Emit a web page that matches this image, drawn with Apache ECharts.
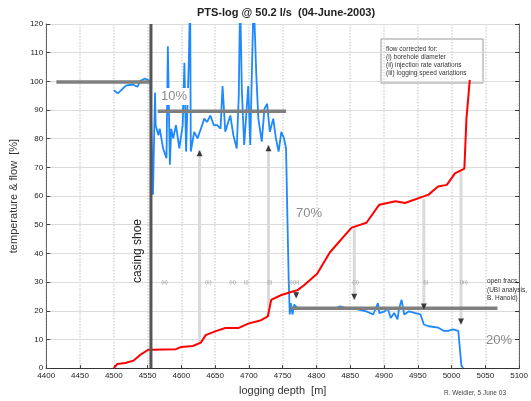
<!DOCTYPE html>
<html>
<head>
<meta charset="utf-8">
<script src="https://cdn.jsdelivr.net/npm/echarts@6/dist/echarts.min.js"></script>
<style>
  html, body { margin: 0; padding: 0; background: #fff; }
  #chart { width: 531px; height: 401px; }
</style>
</head>
<body>
<div id="chart"></div>
<script>
// flow log (blue)
const flowDepth = [4500, 4506, 4518, 4528, 4535, 4539, 4546, 4554, 4558, 4561, 4562, 4566, 4568, 4573, 4578, 4580, 4583, 4585, 4588, 4592, 4597, 4602, 4604.5, 4607, 4611, 4613, 4614, 4619, 4624, 4629, 4634, 4638, 4643, 4648, 4653, 4658, 4661, 4665, 4672.5, 4677, 4682, 4685, 4687, 4689.5, 4693, 4699, 4702, 4707, 4711, 4714, 4719, 4723, 4727, 4731, 4736, 4740, 4744, 4748, 4752, 4755, 4757, 4759, 4760.5, 4762, 4764.5, 4767, 4772, 4781.5, 4801, 4816, 4830, 4835, 4845, 4859, 4874, 4884, 4891, 4893, 4901, 4905.5, 4910, 4915, 4920, 4922, 4926, 4930, 4937, 4946.5, 4954, 4959, 4966, 4980.5, 4988, 4995, 5002, 5010, 5014.5, 5017]
const flowValue = [96.9, 95.8, 98.5, 98.9, 98.1, 100.1, 101.0, 100.1, 60.5, 96.1, 84.7, 81.2, 83.5, 76.6, 73.2, 112.2, 70.9, 83.5, 80.1, 84.7, 76.6, 84.7, 106.5, 75.5, 106.5, 130, 75.5, 82.4, 80.1, 83.5, 87.0, 85.8, 88.1, 84.7, 84.7, 83.5, 98.4, 82.4, 88.1, 81.2, 76.6, 95.0, 130, 97.3, 77.8, 98.4, 77.8, 130, 101.9, 87.0, 79.0, 90.4, 92.2, 82.4, 87.0, 80.1, 75.5, 82.4, 80.1, 76.6, 52.5, 30, 18.7, 22.7, 18.7, 22.1, 21.0, 21.0, 20.6, 20.9, 21.0, 21.5, 20.9, 20.6, 19.8, 18.7, 22.7, 19.2, 19.8, 20.9, 17.5, 19.2, 17.0, 20.4, 23.8, 18.7, 19.8, 19.2, 18.7, 15.2, 14.6, 14.1, 13.0, 13.0, 13.5, 13.0, 1, 0]

// temperature log (red)
const tempDepth = [4500, 4505, 4517, 4529, 4539, 4551, 4556, 4592, 4600, 4617, 4629, 4636, 4651, 4665, 4685, 4699, 4718, 4728, 4733, 4748, 4765, 4772, 4782, 4801, 4820, 4852, 4874, 4893, 4917, 4931, 4966, 4980, 4993, 5005, 5019, 5022, 5027]
const tempValue = [0, 1.4, 1.8, 2.6, 4.6, 6.4, 6.4, 6.6, 7.4, 7.7, 8.9, 11.5, 12.9, 14.0, 14.0, 15.5, 16.7, 18.0, 23.8, 25.5, 26.7, 27.2, 29.0, 32.9, 40.4, 49.0, 50.7, 57.0, 58.2, 57.6, 60.5, 63.3, 63.9, 67.9, 69.6, 86.8, 100.5]

// flow levels (grey bars)
const levelStart = [4415, 4565, 4762]
const levelEnd = [4555, 4755, 5068]
const levelValue = [99.8, 89.6, 20.9]

// casing shoe depth
const casingDepth = 4555

// feed zones: from temperature step to flow arrow
const zoneDepth = [4627, 4729, 4770, 4856, 4959, 5014]
const zoneFrom = [8.9, 18, 27, 49, 59, 68.7]
const zoneTo = [76, 77.7, 24.4, 23.8, 20.4, 15.2]

// small marks at 30 %
const markDepth = [4575, 4640, 4676, 4696, 4731, 4766, 4858, 4962, 5018]
const markText = ['(ii)', '(ii)', '(ii)', '(i)', '(i)', '(i)(ii)', '(ii)', '(i)', '(iii)']

const xTicks = { min: 4400, max: 5100, interval: 50 }
const yTicks = { min: 0, max: 120, interval: 10 }

const font = 'Liberation Sans, Arial, sans-serif'
const chart = echarts.init(document.getElementById('chart'))

const zip = (xs, ys) => xs.map((x, i) => [x, ys[i]])

const series = []

// feed zone lines
zoneDepth.forEach((d, i) => {
  series.push({
    type: 'line', data: [[d, zoneFrom[i]], [d, zoneTo[i]]],
    showSymbol: false, silent: true, z: 1,
    lineStyle: { color: '#dadada', width: 3 }
  })
})

series.push({
  name: 'flow', type: 'line', data: zip(flowDepth, flowValue),
  showSymbol: false, z: 3,
  lineStyle: { color: '#1e88ff', width: 1.8 }
})

series.push({
  name: 'temperature', type: 'line', data: zip(tempDepth, tempValue),
  showSymbol: false, z: 3,
  lineStyle: { color: '#ff0000', width: 2 }
})

levelValue.forEach((v, i) => {
  series.push({
    type: 'line', data: [[levelStart[i], v], [levelEnd[i], v]],
    showSymbol: false, silent: true, z: 4,
    lineStyle: { color: '#7f7f7f', width: 3.5 }
  })
})

series.push({
  type: 'line', data: [[casingDepth, yTicks.min], [casingDepth, yTicks.max]],
  showSymbol: false, silent: true, z: 4,
  lineStyle: { color: '#555', width: 3 }
})

// arrow heads
series.push({
  type: 'scatter', z: 5, silent: true,
  data: zoneDepth.map((d, i) => ({
    value: [d, zoneTo[i]],
    symbolRotate: zoneTo[i] > zoneFrom[i] ? 0 : 180,
    symbolOffset: [0, zoneTo[i] > zoneFrom[i] ? 3 : -3]
  })),
  symbol: 'triangle', symbolSize: [6, 6],
  itemStyle: { color: '#111' }
})

series.push({
  type: 'scatter', z: 5, silent: true,
  data: markDepth.map((d, i) => [d, 30, markText[i]]),
  symbolSize: 0,
  label: {
    show: true, position: 'inside', formatter: p => p.data[2],
    color: '#888', fontSize: 6, fontFamily: font
  }
})

const axisLine = { show: true, lineStyle: { color: '#666', width: 1 } }

chart.setOption({
  animation: false,
  grid: { left: 44.5, right: 5.6, top: 24, bottom: 28.5 },
  xAxis: [{
    type: 'value', ...xTicks,
    name: 'logging depth  [m]', nameLocation: 'middle', nameGap: 14,
    nameTextStyle: { fontSize: 11, color: '#333', fontFamily: font },
    axisLine, axisTick: { inside: true, length: 3, lineStyle: { color: '#444' } },
    axisLabel: { fontSize: 8, color: '#222', margin: 4, fontFamily: font, formatter: v => String(v) },
    splitLine: { show: true, lineStyle: { color: '#d8d8d8', type: 'dotted', width: 1.5 } }
  }, {
    type: 'value', position: 'top', ...xTicks,
    axisLine: { show: true, lineStyle: { color: '#333' } },
    axisTick: { show: false }, axisLabel: { show: false }, splitLine: { show: false }
  }],
  yAxis: [{
    type: 'value', ...yTicks,
    name: 'temperature & flow  [%]', nameLocation: 'middle', nameGap: 26, nameRotate: 90,
    nameTextStyle: { fontSize: 11, color: '#333', fontFamily: font },
    axisLine, axisTick: { show: true, inside: true, length: 4, lineStyle: { color: '#444' } },
    axisLabel: { fontSize: 8, color: '#222', margin: 3, fontFamily: font },
    splitLine: { show: true, lineStyle: { color: '#dcdcdc', width: 1 } }
  }, {
    type: 'value', position: 'right', ...yTicks,
    axisLine: { show: true, lineStyle: { color: '#666' } },
    axisTick: { show: true, inside: true, length: 4, lineStyle: { color: '#333' } },
    axisLabel: { show: false }, splitLine: { show: false }
  }],
  series,
  graphic: [
    { type: 'text', x: 286, y: 13, z: 10,
      style: { text: 'PTS-log @ 50.2 l/s  (04-June-2003)', font: 'bold 11px ' + font, fill: '#222', align: 'center', verticalAlign: 'middle' } },
    // 10% label sits on a white patch
    { type: 'rect', shape: { x: 159, y: 88, width: 30, height: 17 }, style: { fill: '#fff' }, z: 9 },
    { type: 'text', x: 174, y: 96.5, z: 10,
      style: { text: '10%', font: '13px ' + font, fill: '#8a8a8a', align: 'center', verticalAlign: 'middle' } },
    { type: 'text', x: 309, y: 213, z: 10,
      style: { text: '70%', font: '13px ' + font, fill: '#8a8a8a', align: 'center', verticalAlign: 'middle' } },
    { type: 'text', x: 499, y: 340, z: 10,
      style: { text: '20%', font: '13px ' + font, fill: '#8a8a8a', align: 'center', verticalAlign: 'middle' } },
    { type: 'text', x: 138, y: 251, rotation: Math.PI / 2, z: 10,
      style: { text: 'casing shoe', font: '12px ' + font, fill: '#222', align: 'center', verticalAlign: 'middle' } },
    { type: 'group', z: 10, children: [
      { type: 'rect', shape: { x: 381, y: 39, width: 102, height: 44 }, style: { fill: '#fff', stroke: '#999', lineWidth: 1 } },
      { type: 'text', x: 386, y: 49.5, style: { text: 'flow corrected for:', font: '6.5px ' + font, fill: '#333', verticalAlign: 'middle' } },
      { type: 'text', x: 386, y: 57, style: { text: '(i) borehole diameter', font: '6.5px ' + font, fill: '#333', verticalAlign: 'middle' } },
      { type: 'text', x: 386, y: 65, style: { text: '(ii) injection rate variations', font: '6.5px ' + font, fill: '#333', verticalAlign: 'middle' } },
      { type: 'text', x: 386, y: 73.5, style: { text: '(iii) logging speed variations', font: '6.5px ' + font, fill: '#333', verticalAlign: 'middle' } }
    ] },
    { type: 'text', x: 487, y: 290, z: 10,
      style: { text: 'open fracs\n(UBI analysis,\nB. Hanold)', font: '6.5px ' + font, fill: '#333', lineHeight: 8.3, verticalAlign: 'middle' } },
    { type: 'text', x: 475, y: 393, z: 10,
      style: { text: 'R. Weidler, 5 June 03', font: '6.5px ' + font, fill: '#444', align: 'center', verticalAlign: 'middle' } }
  ]
})

window.addEventListener('resize', () => chart.resize())
</script>
</body>
</html>
